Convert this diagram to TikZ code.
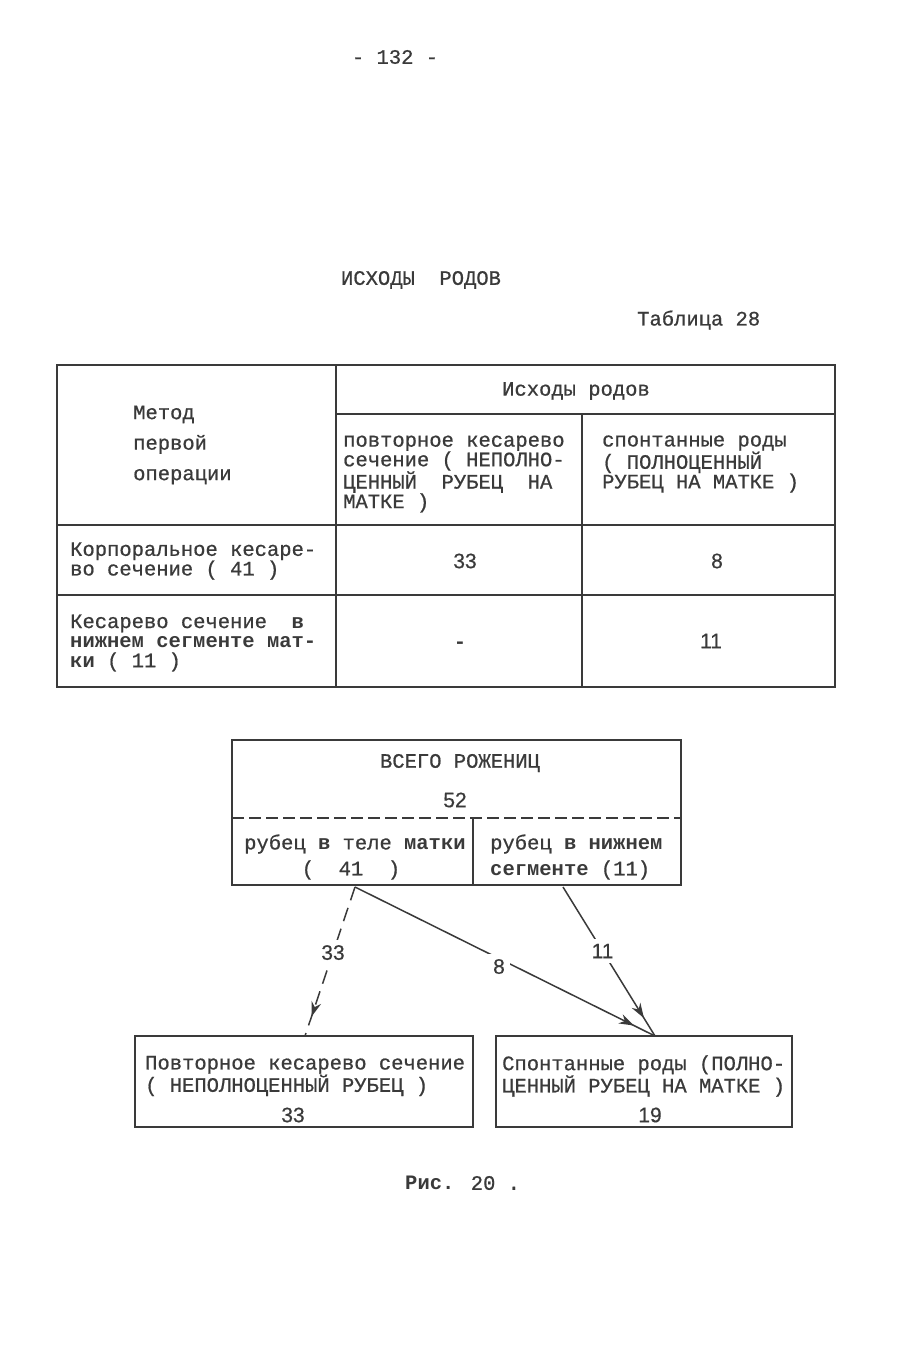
\documentclass[tikz,border=0pt]{standalone}
\usepackage{fontspec}
\setmainfont{Liberation Mono}[UprightFeatures={FakeBold=0.7}]
\newfontfamily\numfont{Liberation Sans}[UprightFeatures={FakeBold=0.5}]
\usetikzlibrary{arrows.meta,decorations.markings}
\definecolor{ink}{HTML}{3A3A3A}
\begin{document}
\begin{tikzpicture}[x=1pt,y=-1pt,
  tw/.style={font=\fontsize{20.5}{19.6}\selectfont, inner sep=0pt, text=ink},
  twl/.style={tw, align=left, anchor=west},
  num/.style={font=\numfont\fontsize{21}{21}\selectfont, inner sep=0pt, text=ink},
  rule/.style={draw=ink, line width=2pt},
  box/.style={draw=ink, line width=2pt, inner sep=0pt, fill=none},
  conn/.style={draw=ink, line width=1.5pt},
  dash2/.style={dash pattern=on 14pt off 8pt},
  lab/.style={num, fill=white, inner sep=5pt},
  midarrow/.style={postaction={decorate, decoration={markings,
      mark=at position #1 with {\arrow[solid]{Stealth[length=15pt,width=10pt]}}}}}
  ]
\useasboundingbox (0,0) rectangle (908,1350);
\fill[white] (0,0) rectangle (908,1350);

% page number, title
\node[tw] (pg) at (395,57) {- 132 -};
\node[tw] (title) at (421,280) {ИСХОДЫ~~РОДОВ};
\node[twl] (tab) at (637,320) {Таблица 28};

% table
\draw[rule] (57,365) rectangle (835,687);
\draw[rule] (336,365) -- (336,687);
\draw[rule] (336,414) -- (835,414);
\draw[rule] (582,414) -- (582,687);
\draw[rule] (57,525) -- (835,525);
\draw[rule] (57,595) -- (835,595);

\node[twl, font=\fontsize{20.5}{30.5}\selectfont] (c11) at (133,445) {Метод\\первой\\операции};
\node[tw] (h) at (576,391) {Исходы родов};
\node[twl] (c12) at (343,474) {повторное кесарево\\сечение ( НЕПОЛНО-\\ЦЕННЫЙ~~РУБЕЦ~~НА\\МАТКЕ )};
\node[twl] (c13) at (602,464) {спонтанные роды\\( ПОЛНОЦЕННЫЙ\\РУБЕЦ НА МАТКЕ )};
\node[twl] (c21) at (70,561) {Корпоральное кесаре-\\во сечение ( 41 )};
\node[num] (c22) at (465,561) {33};
\node[num] (c23) at (717,561) {8};
\node[twl] (c31) at (70,643) {Кесарево сечение~~\textbf{в}\\\textbf{нижнем сегменте мат-}\\\textbf{ки} ( 11 )};
\node[tw, font=\bfseries\fontsize{20.5}{19.6}\selectfont] (c32) at (460,645) {-};
\node[num] (c33) at (711,641) {11};

% diagram top box
\node[box, minimum width=449pt, minimum height=145pt] (all) at (456.5,812.5) {};
\draw[draw=ink, line width=2pt, dash pattern=on 12pt off 5pt] (232,818) -- (681,818);
\draw[rule] (473,818) -- (473,885);
\node[tw] (tot) at (460,763) {ВСЕГО РОЖЕНИЦ};
\node[num] (n52) at (455,800) {52};
\node[twl] (a1) at (244,844) {рубец \textbf{в} теле \textbf{матки}};
\node[tw] (a2) at (351,870) {(~~41~~)};
\node[twl] (b1) at (490,844) {рубец \textbf{в нижнем}};
\node[twl] (b2) at (490,870) {\textbf{сегменте} (11)};

% bottom boxes
\node[box, minimum width=338pt, minimum height=91pt] (bl) at (304,1081.5) {};
\node[box, minimum width=296pt, minimum height=91pt] (br) at (644,1081.5) {};
\node[twl, font=\fontsize{20.5}{18}\selectfont] (blt) at (145,1076) {Повторное кесарево сечение\\( НЕПОЛНОЦЕННЫЙ РУБЕЦ )};
\node[num] (bln) at (293,1115) {33};
\node[twl, font=\fontsize{20.5}{18}\selectfont] (brt) at (502,1076) {Спонтанные роды (ПОЛНО-\\ЦЕННЫЙ РУБЕЦ НА МАТКЕ )};
\node[num] (brn) at (650,1115) {19};

% connectors
\coordinate (o41) at (355,887);
\coordinate (o11) at (563,887);
\coordinate (iL) at (305,1036);
\coordinate (iR) at (655,1036);
\draw[conn, dash2, midarrow=0.87] (o41) -- node[lab, pos=0.44] {33} (iL);
\draw[conn, midarrow=0.93] (o41) -- node[lab, pos=0.48, yshift=-8pt] {8} (iR);
\draw[conn, midarrow=0.88] (o11) -- node[lab, pos=0.43] {11} (iR);

% caption
\node[twl] (cap) at (405,1183) {\textbf{Рис.} 20 .};
\end{tikzpicture}
\end{document}
